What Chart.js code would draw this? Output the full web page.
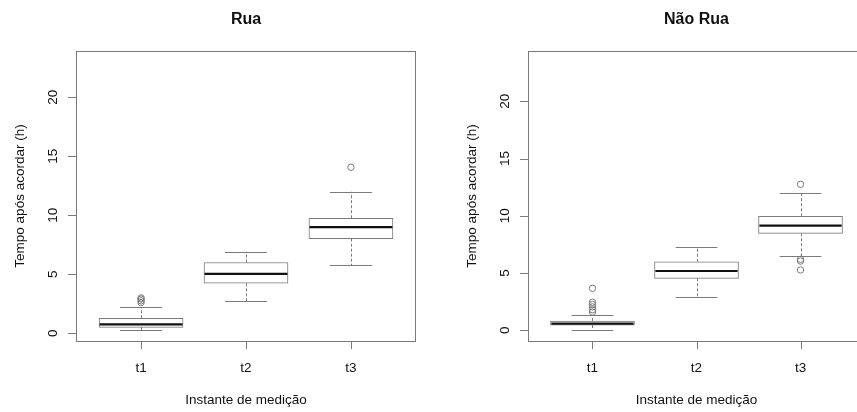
<!DOCTYPE html>
<html>
<head>
<meta charset="utf-8">
<script src="https://cdn.jsdelivr.net/npm/chart.js@4"></script>
<style>
    html, body { margin: 0; padding: 0; background: #fff; overflow: hidden; }
    .panel { position: absolute; top: 0; height: 412px; }
    #rua { left: 0; width: 430px; }
    #nao-rua { left: 430px; width: 440px; }
</style>
</head>
<body>
<div class="panel" id="rua"><canvas id="ruaChart" width="430" height="412"></canvas></div>
<div class="panel" id="nao-rua"><canvas id="naoRuaChart" width="440" height="412"></canvas></div>
<script>
// Boxplot summaries per measurement instant
const categories = ['t1', 't2', 't3'];
const yTicks = [0, 5, 10, 15, 20];

// Rua
const ruaLower = [0.25, 2.74, 5.76];
const ruaQ1 = [0.51, 4.24, 8.02];
const ruaMedian = [0.76, 5.03, 9.0];
const ruaQ3 = [1.27, 6.0, 9.75];
const ruaUpper = [2.2, 6.92, 12.0];
const ruaOutliers = [[2.6, 2.75, 2.9, 3.0], [], [14.07]];

// Não Rua
const naoRuaLower = [0.0, 2.88, 6.46];
const naoRuaQ1 = [0.46, 4.54, 8.47];
const naoRuaMedian = [0.58, 5.18, 9.14];
const naoRuaQ3 = [0.81, 5.99, 9.96];
const naoRuaUpper = [1.31, 7.25, 11.97];
const naoRuaOutliers = [[1.6, 1.8, 2.05, 2.25, 2.45, 3.67], [], [5.27, 6.05, 6.2, 12.75]];

const FONT = "'Liberation Sans', Arial, sans-serif";
const LINE = '#7a7a7a';

// whiskers, staples and medians drawn on top of the boxes
const boxParts = {
    id: 'boxParts',
    afterDatasetsDraw(chart) {
        const s = chart.options.plugins.boxParts.stats;
        const { ctx, scales: { x, y } } = chart;
        ctx.save();
        categories.forEach((c, i) => {
            const cx = x.getPixelForValue(i + 1);
            const xl = x.getPixelForValue(i + 0.8);
            const xr = x.getPixelForValue(i + 1.2);
            const bl = x.getPixelForValue(i + 0.6);
            const br = x.getPixelForValue(i + 1.4);
            const px = Math.round(cx) + 0.5;

            // dashed whiskers
            ctx.strokeStyle = LINE;
            ctx.lineWidth = 1;
            ctx.setLineDash([3, 2]);
            ctx.beginPath();
            ctx.moveTo(px, y.getPixelForValue(s.q3[i]));
            ctx.lineTo(px, y.getPixelForValue(s.upper[i]));
            ctx.moveTo(px, y.getPixelForValue(s.q1[i]));
            ctx.lineTo(px, y.getPixelForValue(s.lower[i]));
            ctx.stroke();

            // staples
            ctx.setLineDash([]);
            ctx.beginPath();
            const yu = Math.round(y.getPixelForValue(s.upper[i])) + 0.5;
            const yl = Math.round(y.getPixelForValue(s.lower[i])) + 0.5;
            ctx.moveTo(xl, yu); ctx.lineTo(xr, yu);
            ctx.moveTo(xl, yl); ctx.lineTo(xr, yl);
            ctx.stroke();

            // median
            ctx.strokeStyle = '#111';
            ctx.lineWidth = 2.2;
            ctx.beginPath();
            const ym = y.getPixelForValue(s.median[i]);
            ctx.moveTo(bl + 0.5, ym); ctx.lineTo(br - 0.5, ym);
            ctx.stroke();
        });
        ctx.restore();
    }
};

// plot frame, tick marks, rotated y tick labels, titles
const frameText = {
    id: 'frameText',
    afterDraw(chart) {
        const o = chart.options.plugins.frameText;
        const { ctx, chartArea: a, scales: { x, y } } = chart;
        ctx.save();
        ctx.strokeStyle = LINE;
        ctx.lineWidth = 1;
        ctx.strokeRect(a.left + 0.5, a.top + 0.5, a.right - a.left - 1, a.bottom - a.top);

        ctx.beginPath();
        yTicks.forEach(v => {
            const py = Math.round(y.getPixelForValue(v)) + 0.5;
            ctx.moveTo(a.left - 8, py);
            ctx.lineTo(a.left, py);
        });
        categories.forEach((c, i) => {
            const px = Math.round(x.getPixelForValue(i + 1)) + 0.5;
            ctx.moveTo(px, a.bottom);
            ctx.lineTo(px, a.bottom + 8);
        });
        ctx.stroke();

        ctx.fillStyle = '#111';
        ctx.font = `13.5px ${FONT}`;
        ctx.textAlign = 'center';
        ctx.textBaseline = 'alphabetic';
        yTicks.forEach(v => {
            ctx.save();
            ctx.translate(a.left - 19, y.getPixelForValue(v));
            ctx.rotate(-Math.PI / 2);
            ctx.fillText(String(v), 0, 0);
            ctx.restore();
        });
        categories.forEach((c, i) => {
            ctx.fillText(c, x.getPixelForValue(i + 1), 372);
        });

        const midX = (a.left + a.right) / 2;
        ctx.fillText('Instante de medição', midX, 404);

        ctx.save();
        ctx.translate(a.left - 52.5, (a.top + a.bottom) / 2);
        ctx.rotate(-Math.PI / 2);
        ctx.fillText('Tempo após acordar (h)', 0, 0);
        ctx.restore();

        ctx.font = `bold 16px ${FONT}`;
        ctx.fillText(o.title, midX, 23.5);
        ctx.restore();
    }
};

function makeChart(canvasId, title, stats, axisWidth, padRight, yMin, yMax) {
    const boxes = categories.map((c, i) => ({ x: i + 1, y: [stats.q1[i], stats.q3[i]] }));
    const outliers = [];
    stats.outliers.forEach((list, i) => list.forEach(v => outliers.push({ x: i + 1, y: v })));

    new Chart(document.getElementById(canvasId), {
        type: 'bar',
        data: {
            datasets: [
                {
                    type: 'bar',
                    data: boxes,
                    backgroundColor: '#fff',
                    borderColor: LINE,
                    borderWidth: 1,
                    borderSkipped: false,
                    barThickness: 84
                },
                {
                    type: 'scatter',
                    data: outliers,
                    pointStyle: 'circle',
                    pointRadius: 3.2,
                    borderColor: LINE,
                    backgroundColor: 'rgba(0,0,0,0)',
                    borderWidth: 1
                }
            ]
        },
        options: {
            responsive: false,
            animation: false,
            events: [],
            layout: { padding: { top: 51, right: padRight, bottom: 0, left: 0 } },
            plugins: {
                legend: { display: false },
                tooltip: { enabled: false },
                boxParts: { stats },
                frameText: { title }
            },
            scales: {
                x: {
                    type: 'linear',
                    min: 0.38,
                    max: 3.62,
                    offset: false,
                    afterFit: s => { s.height = 71; },
                    ticks: { display: false },
                    border: { display: false },
                    grid: { display: false }
                },
                y: {
                    type: 'linear',
                    min: yMin,
                    max: yMax,
                    afterFit: s => { s.width = axisWidth; },
                    ticks: { display: false },
                    border: { display: false },
                    grid: { display: false }
                }
            }
        },
        plugins: [boxParts, frameText]
    });
}

makeChart('ruaChart', 'Rua', {
    lower: ruaLower, q1: ruaQ1, median: ruaMedian, q3: ruaQ3, upper: ruaUpper, outliers: ruaOutliers
}, 76, 14, -0.65, 23.92);

makeChart('naoRuaChart', 'Não Rua', {
    lower: naoRuaLower, q1: naoRuaQ1, median: naoRuaMedian, q3: naoRuaQ3, upper: naoRuaUpper, outliers: naoRuaOutliers
}, 98, 2.4, -0.93, 24.39);
</script>
</body>
</html>
